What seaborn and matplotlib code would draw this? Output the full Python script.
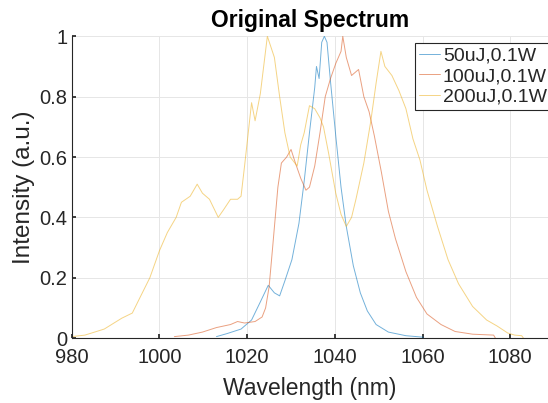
import matplotlib
matplotlib.use("Agg")
import matplotlib.pyplot as plt
import seaborn as sns
import pandas as pd

sns.set_theme(style="whitegrid")
plt.rcParams['font.family'] = ['Liberation Sans', 'DejaVu Sans']

# 50uJ,0.1W
wl_50 = [1013, 1015.4, 1018.6, 1021, 1023, 1024.8, 1026.2, 1027.4, 1028.6, 1030.2,
         1031.8, 1033, 1034.2, 1035.4, 1035.8, 1036.4, 1037, 1037.6, 1038.2, 1039,
         1040.2, 1041.4, 1042.6, 1044.2, 1045.8, 1047.4, 1049.4, 1052.2, 1056.2, 1060.2]
int_50 = [0.005, 0.015, 0.03, 0.06, 0.12, 0.175, 0.15, 0.14, 0.19, 0.26,
          0.38, 0.52, 0.68, 0.83, 0.90, 0.86, 0.98, 1.0, 0.98, 0.85,
          0.67, 0.50, 0.37, 0.24, 0.15, 0.09, 0.045, 0.02, 0.008, 0.003]

# 100uJ,0.1W
wl_100 = [1003.4, 1006.6, 1009.8, 1013, 1016.2, 1017.8, 1019.4, 1021.8, 1023.4, 1024.2,
          1025, 1025.8, 1027, 1027.8, 1029, 1030, 1031, 1032.2, 1033.4, 1034.2,
          1035.4, 1036.6, 1037.8, 1039, 1040.2, 1041.4, 1041.8, 1042.6, 1043.8, 1044.6,
          1045.4, 1046.6, 1047.8, 1049, 1050.6, 1052.2, 1053.8, 1056.2, 1058.6, 1061,
          1064.2, 1067.4, 1071.4, 1076.2, 1076.6]
int_100 = [0.005, 0.01, 0.02, 0.035, 0.045, 0.055, 0.05, 0.055, 0.07, 0.10,
           0.17, 0.30, 0.50, 0.58, 0.60, 0.625, 0.58, 0.53, 0.49, 0.50,
           0.57, 0.68, 0.80, 0.86, 0.91, 0.95, 1.0, 0.93, 0.87, 0.88,
           0.89, 0.80, 0.75, 0.67, 0.55, 0.42, 0.33, 0.22, 0.135, 0.08,
           0.045, 0.022, 0.013, 0.01, 0.0]

# 200uJ,0.1W
wl_200 = [980, 983, 987.4, 991.4, 993.8, 995.4, 997.8, 1000, 1001.8, 1003.8,
          1005, 1007, 1008.6, 1009.8, 1011.4, 1013.4, 1014.6, 1016.2, 1017.8, 1018.6,
          1019.4, 1021, 1021.8, 1023, 1024.6, 1026.2, 1027.4, 1028.6, 1029.8, 1031.4,
          1032.2, 1033, 1034.2, 1035.4, 1036.6, 1037.4, 1038.6, 1040.2, 1041.4, 1042.6,
          1043.8, 1044.8, 1046.6, 1048.2, 1049.4, 1050.5, 1051.4, 1053, 1054.6, 1056.2,
          1057.8, 1059.4, 1061, 1063.4, 1065.8, 1068.2, 1071.4, 1074.6, 1077, 1079.4,
          1081, 1082.6, 1083]
int_200 = [0.005, 0.01, 0.03, 0.066, 0.083, 0.13, 0.20, 0.29, 0.35, 0.40,
           0.45, 0.47, 0.51, 0.48, 0.46, 0.40, 0.425, 0.46, 0.46, 0.47,
           0.57, 0.78, 0.72, 0.81, 1.0, 0.93, 0.80, 0.68, 0.60, 0.57,
           0.64, 0.68, 0.77, 0.76, 0.73, 0.70, 0.61, 0.48, 0.41, 0.37,
           0.40, 0.46, 0.58, 0.72, 0.845, 0.95, 0.90, 0.87, 0.82, 0.76,
           0.66, 0.59, 0.49, 0.37, 0.26, 0.18, 0.105, 0.06, 0.04, 0.017,
           0.01, 0.008, 0.0]

labels = ['50uJ,0.1W', '100uJ,0.1W', '200uJ,0.1W']
colors = ['#0072BD', '#D95319', '#EDB120']

df = pd.concat([
    pd.DataFrame({'wl': wl_50, 'I': int_50, 'series': labels[0]}),
    pd.DataFrame({'wl': wl_100, 'I': int_100, 'series': labels[1]}),
    pd.DataFrame({'wl': wl_200, 'I': int_200, 'series': labels[2]}),
])

fig = plt.figure(figsize=(5.48, 4.03), dpi=100)
ax = fig.add_axes([0.131, 0.161, 0.869, 0.749])

sns.lineplot(data=df, x='wl', y='I', hue='series', palette=dict(zip(labels, colors)),
             linewidth=0.7, alpha=0.55, estimator=None, sort=False, ax=ax)

ax.set_xlim(980, 1088.6)
ax.set_ylim(0, 1)
ax.set_xticks([980, 1000, 1020, 1040, 1060, 1080])
ax.set_yticks([0, 0.2, 0.4, 0.6, 0.8, 1])
ax.set_yticklabels(['0', '0.2', '0.4', '0.6', '0.8', '1'])
ax.tick_params(labelsize=14.5, colors='#262626', length=3, direction='in',
               left=True, bottom=True)
ax.tick_params(axis='y', pad=3)
ax.tick_params(axis='x', pad=7)
ax.grid(True, color='#e6e6e6', linewidth=0.7)
for s in ['top', 'right']:
    ax.spines[s].set_visible(False)
for s in ['left', 'bottom']:
    ax.spines[s].set_color('#262626')
    ax.spines[s].set_linewidth(0.8)

ax.set_xlabel('Wavelength (nm)', fontsize=16.5, color='#262626', labelpad=7)
ax.set_ylabel('Intensity (a.u.)', fontsize=17.5, color='#262626', labelpad=3)
ax.set_title('Original Spectrum', fontsize=16.5, fontweight='bold', pad=7, color='black')

leg = ax.legend(loc='upper left', bbox_to_anchor=(0.72, 0.977), borderaxespad=0,
                fontsize=14, handlelength=1.1, handletextpad=0.15, borderpad=0.2,
                labelspacing=0.15, fancybox=False, framealpha=1)
leg.get_frame().set_edgecolor('#262626')
leg.get_frame().set_linewidth(0.8)

fig.savefig('out.png', dpi=100)
